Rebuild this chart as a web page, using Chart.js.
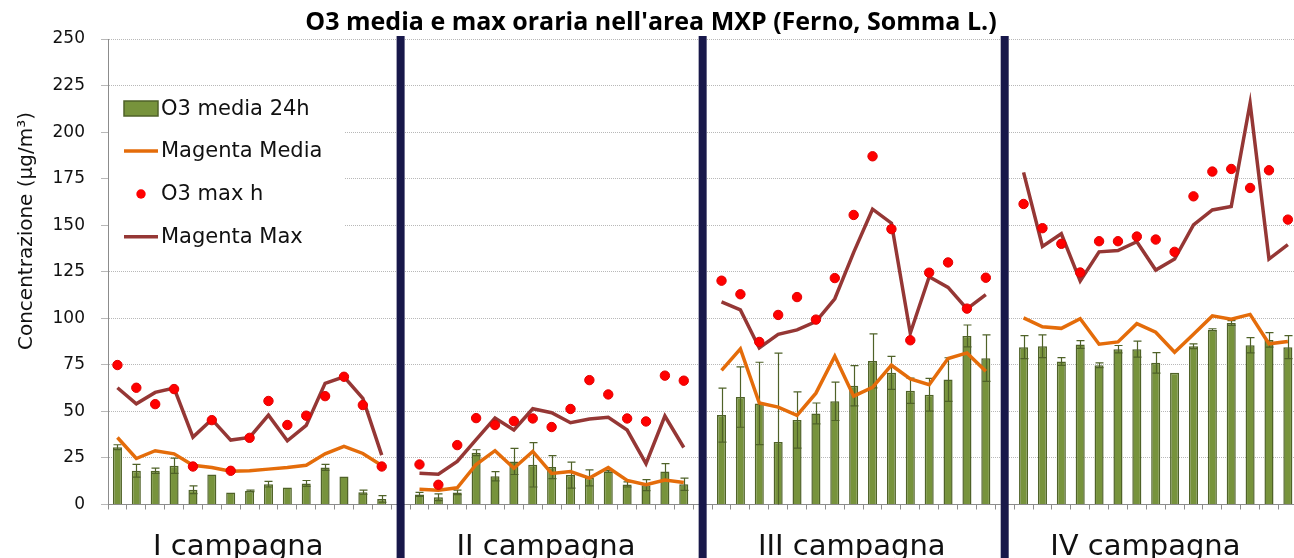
<!DOCTYPE html>
<html>
<head>
<meta charset="utf-8">
<script src="https://cdn.jsdelivr.net/npm/chart.js@4"></script>
<style>
  html, body { margin: 0; padding: 0; background: #fff; overflow: hidden; }
  #wrap { width: 1303px; height: 558px; }
</style>
</head>
<body>
<div id="wrap"><canvas id="o3-chart" width="1303" height="558"></canvas></div>
<script>
// Campagne di misura (15 giorni ciascuna)
const campaigns = ['I campagna', 'II campagna', 'III campagna', 'IV campagna'];

// O3 media 24h (barre) e relativa deviazione (barre d'errore)
const o3Media24h = [
  [30.8, 18.1, 18.1, 20.8, 7.9, 16.1, 6.5, 7.3, 10.9, 9.1, 11.3, 19.9, 15.1, 6.6, 3.0],
  [5.4, 3.9, 6.5, 27.8, 15.2, 23.1, 21.3, 20.1, 15.8, 14.3, 17.7, 10.8, 10.4, 17.7, 10.9],
  [48.0, 57.7, 54.3, 33.6, 45.4, 48.9, 55.4, 63.8, 77.1, 70.7, 61.1, 58.9, 67.1, 90.5, 78.6],
  [84.5, 85.0, 76.8, 85.9, 74.8, 83.4, 83.4, 76.1, 70.7, 85.0, 93.9, 97.5, 85.5, 88.4, 84.5]
];
const o3MediaErr = [
  [1.3, 3.4, 1.4, 4.1, 2.1, 0, 0, 0.4, 1.5, 0, 1.6, 1.6, 0, 1.1, 1.8],
  [1.1, 1.8, 1.2, 1.6, 2.5, 7.0, 11.9, 6.2, 7.0, 4.3, 0.5, 1.4, 3.0, 4.3, 3.3],
  [14.5, 16.2, 22.1, 47.7, 15.1, 5.6, 10.3, 10.8, 14.5, 8.9, 6.8, 8.8, 11.7, 5.9, 12.5],
  [6.2, 6.1, 2.1, 2.1, 1.3, 2.0, 4.3, 5.5, 0, 1.3, 0.5, 1.3, 4.1, 3.9, 6.2]
];

// Modello Magenta, media giornaliera
const magentaMedia = [
  [36.0, 24.7, 28.9, 27.2, 21.1, 19.9, 17.9, 18.1, 19.0, 19.9, 21.1, 27.2, 31.2, 27.4, 21.0],
  [8.2, 7.7, 9.0, 21.5, 28.9, 19.5, 28.5, 16.7, 17.7, 14.2, 19.9, 12.9, 10.6, 13.1, 11.8],
  [72.0, 83.6, 54.5, 52.3, 47.9, 59.8, 79.6, 58.2, 62.9, 74.8, 67.5, 64.3, 78.4, 81.4, 71.6],
  [100.2, 95.4, 94.6, 99.8, 86.1, 87.3, 97.1, 92.5, 81.8, 91.4, 101.3, 99.5, 102.1, 86.3, 87.5]
];

// O3 massimo orario misurato
const o3MaxH = [
  [74.9, 62.7, 53.9, 62.0, 20.4, 45.3, 18.1, 35.8, 55.6, 42.7, 47.7, 58.2, 68.6, 53.4, 20.4],
  [21.5, 10.6, 31.9, 46.4, 42.7, 44.8, 46.2, 41.6, 51.3, 66.8, 59.1, 46.2, 44.6, 69.2, 66.5],
  [120.2, 112.9, 87.3, 101.8, 111.4, 99.3, 121.6, 155.5, 187.0, 147.9, 88.2, 124.5, 130.0, 105.2, 121.8],
  [161.4, 148.4, 140.0, 124.6, 141.4, 141.4, 143.9, 142.3, 135.7, 165.5, 178.8, 180.2, 170.0, 179.5, 153.0]
];

// Modello Magenta, massimo orario
const magentaMax = [
  [62.7, 54.1, 60.2, 62.5, 36.2, 45.7, 34.6, 36.0, 48.0, 34.2, 42.5, 65.1, 68.6, 57.0, 26.5],
  [16.8, 16.3, 23.1, 34.9, 46.4, 40.0, 51.4, 49.3, 43.9, 45.9, 46.8, 40.0, 21.9, 47.5, 30.6],
  [108.8, 104.5, 84.1, 91.4, 93.8, 98.2, 110.5, 135.4, 158.6, 151.1, 92.0, 122.3, 116.6, 105.0, 112.7],
  [178.4, 138.6, 145.4, 120.0, 135.7, 136.4, 141.1, 125.9, 131.8, 150.2, 158.2, 160.0, 215.5, 131.8, 139.6]
];

const yTicks = [0, 25, 50, 75, 100, 125, 150, 175, 200, 225, 250];

// where each campaign name sits, as a (fractional) category index
const campaignLabelAt = [6.4, 22.7, 38.9, 54.45];

// one empty category between campaigns, used for the separator bar
const withGaps = rows => rows.flatMap((r, i) => (i < rows.length - 1 ? [...r, null] : r));

const categories = campaigns.flatMap((c, i) => {
  const days = o3Media24h[i].map((_, d) => c + ' g' + (d + 1));
  return i < campaigns.length - 1 ? [...days, ''] : days;
});
const dividerIdx = categories.map((c, i) => (c === '' ? i : -1)).filter(i => i >= 0);

const FONT = '"DejaVu Sans", Verdana, sans-serif';
const GREEN = '#77933c';
const GREEN_DARK = '#4f6228';
const ORANGE = '#e46c0a';
const BROWN = '#953735';
const RED = '#ff0000';
const NAVY = '#18184a';

// error bars on the O3 bars, drawn right after the bars (under the lines)
const errorBars = {
  id: 'errorBars',
  afterDatasetDraw(chart, args) {
    if (args.meta.type !== 'bar') return;
    const { ctx, chartArea: ca } = chart;
    const y = chart.scales.y;
    const errs = withGaps(o3MediaErr);
    const vals = chart.data.datasets[args.index].data;
    ctx.save();
    ctx.beginPath();
    ctx.rect(ca.left, ca.top, ca.right - ca.left, ca.bottom - ca.top);
    ctx.clip();
    ctx.strokeStyle = GREEN_DARK;
    ctx.lineWidth = 1.2;
    args.meta.data.forEach((bar, i) => {
      const v = vals[i], e = errs[i];
      if (v == null || !e) return;
      const x = Math.round(bar.x) + 0.5;
      const yt = y.getPixelForValue(v + e);
      const yb = y.getPixelForValue(v - e);
      ctx.beginPath();
      ctx.moveTo(x, yt); ctx.lineTo(x, yb);
      ctx.moveTo(x - 4, yt); ctx.lineTo(x + 4, yt);
      ctx.moveTo(x - 4, yb); ctx.lineTo(x + 4, yb);
      ctx.stroke();
    });
    ctx.restore();
  }
};

// campaign separators + boxed legend, over the grid and under the data
const decorations = {
  id: 'decorations',
  beforeDatasetsDraw(chart) {
    const { ctx, chartArea: ca } = chart;
    const x = chart.scales.x;

    ctx.save();
    ctx.fillStyle = NAVY;
    dividerIdx.forEach(i => {
      const px = x.getPixelForValue(i);
      ctx.fillRect(px - 4, ca.top - 3, 8, chart.height - ca.top + 3);
    });

    // legend
    ctx.fillStyle = '#fff';
    ctx.fillRect(ca.left + 1, ca.top + 51, 236, 168);
    const x0 = ca.left + 16, x1 = ca.left + 50;
    const rows = chart.data.datasets.map(ds => ds.label);
    const rowY = [ca.top + 69.5, ca.top + 112, ca.top + 155, ca.top + 197.7];
    const order = ['O3 media 24h', 'Magenta Media', 'O3 max h', 'Magenta Max'];
    ctx.font = '21px ' + FONT;
    ctx.textBaseline = 'middle';
    order.forEach((name, r) => {
      const ds = chart.data.datasets[rows.indexOf(name)];
      const cy = rowY[r];
      if (ds.type === 'bar') {
        ctx.fillStyle = GREEN;
        ctx.fillRect(x0, cy - 7.5, x1 - x0, 15);
        ctx.strokeStyle = GREEN_DARK;
        ctx.lineWidth = 1.5;
        ctx.strokeRect(x0, cy - 7.5, x1 - x0, 15);
      } else if (ds.showLine === false) {
        ctx.beginPath();
        ctx.arc((x0 + x1) / 2, cy, 4.7, 0, Math.PI * 2);
        ctx.fillStyle = RED;
        ctx.fill();
      } else {
        ctx.strokeStyle = ds.borderColor;
        ctx.lineWidth = 3.5;
        ctx.beginPath();
        ctx.moveTo(x0, cy); ctx.lineTo(x1, cy);
        ctx.stroke();
      }
      ctx.fillStyle = '#111';
      ctx.fillText(name, x1 + 3, cy + 1);
    });
    ctx.restore();
  },
  afterDraw(chart) {
    const { ctx } = chart;
    const x = chart.scales.x;
    ctx.save();
    ctx.fillStyle = '#111';
    ctx.font = '29px ' + FONT;
    ctx.textAlign = 'center';
    ctx.textBaseline = 'alphabetic';
    campaigns.forEach((c, i) => ctx.fillText(c, x.getPixelForValue(campaignLabelAt[i]), 555));

    ctx.font = '20px ' + FONT;
    ctx.textBaseline = 'middle';
    ctx.translate(27, 231);
    ctx.rotate(-Math.PI / 2);
    ctx.fillText('Concentrazione (µg/m³)', 0, 0);
    ctx.restore();
  }
};

new Chart(document.getElementById('o3-chart'), {
  data: {
    labels: categories,
    datasets: [
      {
        type: 'scatter',
        label: 'O3 max h',
        data: withGaps(o3MaxH),
        showLine: false,
        pointRadius: 4.7,
        pointBackgroundColor: RED,
        pointBorderColor: '#e00000',
        pointBorderWidth: 1,
        order: 1
      },
      {
        type: 'line',
        label: 'Magenta Max',
        data: withGaps(magentaMax),
        borderColor: BROWN,
        borderWidth: 3.5,
        pointRadius: 0,
        tension: 0,
        spanGaps: false,
        order: 2
      },
      {
        type: 'line',
        label: 'Magenta Media',
        data: withGaps(magentaMedia),
        borderColor: ORANGE,
        borderWidth: 3.5,
        pointRadius: 0,
        tension: 0,
        spanGaps: false,
        order: 3
      },
      {
        type: 'bar',
        label: 'O3 media 24h',
        data: withGaps(o3Media24h),
        backgroundColor: GREEN,
        borderColor: GREEN_DARK,
        borderWidth: 1.5,
        categoryPercentage: 1,
        barPercentage: 0.48,
        order: 4
      }
    ]
  },
  options: {
    responsive: false,
    animation: false,
    layout: { padding: { left: 0, right: 1, top: 0, bottom: 0 } },
    plugins: {
      legend: { display: false },
      tooltip: { enabled: false },
      title: {
        display: true,
        text: "O3 media e max oraria nell'area MXP (Ferno, Somma L.)",
        color: '#000',
        font: { family: '"Open Sans", sans-serif', size: 25, weight: 'bold', lineHeight: 1.2 },
        padding: { top: 8, bottom: 1 }
      }
    },
    scales: {
      x: {
        type: 'category',
        offset: true,
        grid: {
          display: true,
          offset: true,
          drawOnChartArea: false,
          drawTicks: true,
          tickLength: 5,
          color: '#8c8c8c'
        },
        border: { display: true, color: '#8c8c8c', width: 1 },
        ticks: { display: false },
        afterFit(scale) { scale.height = 53.5; }
      },
      y: {
        min: 0,
        max: 250,
        afterBuildTicks(scale) { scale.ticks = yTicks.map(v => ({ value: v })); },
        grid: {
          color: '#b8b8b8',
          lineWidth: 1,
          drawTicks: true,
          tickLength: 7
        },
        border: { display: true, color: '#8c8c8c', width: 1, dash: [1, 1] },
        ticks: {
          color: '#111',
          padding: 16,
          font: { family: FONT, size: 17 }
        },
        afterFit(scale) { scale.width = 108; }
      }
    }
  },
  plugins: [errorBars, decorations]
});
</script>
</body>
</html>
